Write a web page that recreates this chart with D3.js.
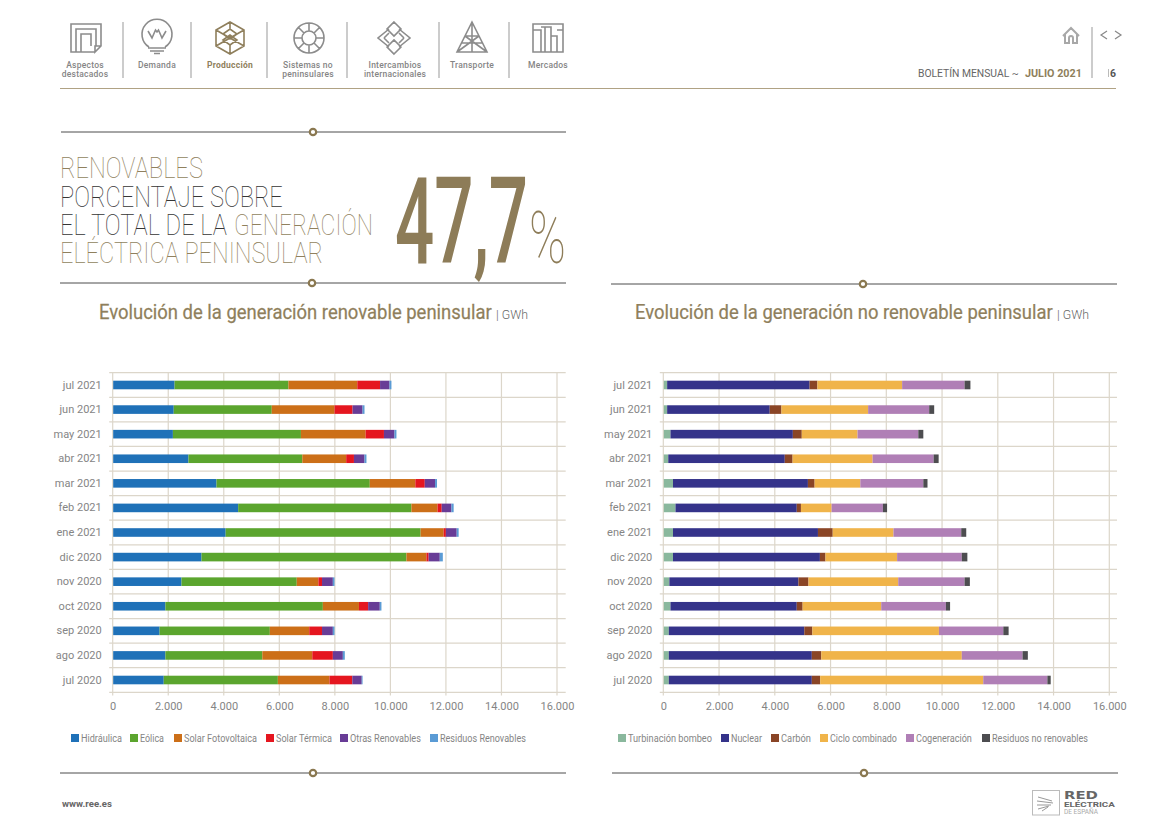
<!DOCTYPE html>
<html>
<head>
<meta charset="utf-8">
<script src="https://d3js.org/d3.v7.min.js"></script>
<style>
  body { margin: 0; background: #fff; }
  svg { display: block; }
  text { font-family: "Liberation Sans Narrow", Roboto, sans-serif; }
</style>
</head>
<body>
<svg id="page" width="1176" height="832"></svg>
<script>
// months, top bar first
let months = ["jul 2021","jun 2021","may 2021","abr 2021","mar 2021","feb 2021","ene 2021","dic 2020","nov 2020","oct 2020","sep 2020","ago 2020","jul 2020"];
let xTicks = [0,2000,4000,6000,8000,10000,12000,14000,16000];

// renovable (GWh)
let renewableNames = ["Hidráulica","Eólica","Solar Fotovoltaica","Solar Térmica","Otras Renovables","Residuos Renovables"];
let hidraulica = [2210,2180,2150,2710,3720,4500,4050,3180,2460,1880,1670,1880,1820];
let eolica = [4100,3530,4610,4100,5520,6240,7020,7380,4150,5670,3970,3490,4110];
let solarFoto = [2480,2260,2330,1580,1640,940,830,720,780,1300,1420,1800,1860];
let solarTerm = [820,650,660,280,340,150,80,80,130,330,460,740,820];
let otrasRen = [340,360,380,380,370,350,390,400,390,420,390,360,340];
let residuosRen = [70,70,70,70,70,80,70,110,60,60,60,70,30];

// no renovable (GWh)
let nonRenewableNames = ["Turbinación bombeo","Nuclear","Carbón","Ciclo combinado","Cogeneración","Residuos no renovables"];
let turbinacion = [120,120,240,160,330,420,330,330,200,240,180,180,180];
let nuclear = [5110,3680,4390,4180,4840,4350,5200,5270,4630,4530,4860,5130,5130];
let carbon = [280,420,320,280,240,150,530,200,360,210,290,340,300];
let ciclo = [3040,3110,2000,2870,1640,1100,2180,2570,3220,2820,4540,5040,5850];
let cogeneracion = [2240,2190,2180,2190,2260,1840,2430,2320,2380,2320,2310,2180,2300];
let residuosNoRen = [210,180,180,180,150,150,180,200,190,150,190,190,120];

let navLabels = [["Aspectos","destacados"],["Demanda"],["Producción"],["Sistemas no","peninsulares"],["Intercambios","internacionales"],["Transporte"],["Mercados"]];

let gold = "#8f7f5c";
let gray = "#858585";
let gridColor = "#dcd6ca";

let svg = d3.select("#page");
let esFormat = d3.formatLocale({decimal: ",", thousands: ".", grouping: [3], currency: ["", "€"]}).format(",d");

// text squeezed to a given width, the fonts here have no condensed cut of the original
function fitted(x, y, str, width, size, color, weight, family) {
    let t = svg.append("text").text(str)
        .attr("font-size", size).attr("fill", color).attr("font-weight", weight || 400);
    if (family) t.style("font-family", family);
    let k = width ? width / t.node().getComputedTextLength() : 1;
    t.attr("transform", "translate(" + x + "," + y + ") scale(" + k + ",1)");
    return t;
}

//----- stacked bars
function drawChart(cfg) {
    let x = d3.scaleLinear().domain([0, 16000]).range([cfg.x0, cfg.x1]);
    let y = d3.scaleBand().domain(months).range([372.7, 692.3]).paddingInner(0.65).paddingOuter(0.325);
    let g = svg.append("g");

    // one row per month
    let rows = months.map(function(m, i) {
        let row = {month: m};
        cfg.names.forEach(function(n, j) { row[n] = cfg.series[j][i]; });
        return row;
    });
    let stacked = d3.stack().keys(cfg.names)(rows);

    // horizontal lines sit on the band limits
    g.selectAll(".hline").data(d3.range(months.length + 1)).enter().append("line")
        .attr("x1", cfg.x0 - 3.5).attr("x2", cfg.xEnd)
        .attr("y1", i => 372.7 + i * y.step()).attr("y2", i => 372.7 + i * y.step())
        .attr("stroke", gridColor).attr("stroke-width", 1.2);

    g.selectAll(".vline").data(xTicks).enter().append("line")
        .attr("x1", d => x(d)).attr("x2", d => x(d))
        .attr("y1", 372.7).attr("y2", 695.5)
        .attr("stroke", gridColor).attr("stroke-width", 1.2);

    g.selectAll(".layer").data(stacked).enter().append("g")
        .attr("fill", d => cfg.colors[d.index])
        .selectAll("rect").data(d => d).enter().append("rect")
        .attr("x", d => x(d[0]) + 0.5)
        .attr("y", d => y(d.data.month))
        .attr("width", d => x(d[1]) - x(d[0]))
        .attr("height", y.bandwidth());

    let yAxis = g.append("g").attr("transform", "translate(" + (cfg.x0 - 11) + ",0)")
        .call(d3.axisLeft(y).tickSize(0).tickPadding(0));
    let xAxis = g.append("g").attr("transform", "translate(0,695)")
        .call(d3.axisBottom(x).tickValues(xTicks).tickFormat(esFormat).tickSize(0).tickPadding(7));
    [yAxis, xAxis].forEach(function(a) {
        a.select(".domain").remove();
        a.selectAll("text").style("font-family", '"Liberation Sans Narrow", Roboto, sans-serif')
            .attr("font-size", 11).attr("fill", gray);
    });

    // legend
    cfg.names.forEach(function(n, i) {
        g.append("rect").attr("x", cfg.legendX[i]).attr("y", 734).attr("width", 8).attr("height", 8).attr("fill", cfg.colors[i]);
        fitted(cfg.legendX[i] + 10, 741.5, n, cfg.legendW[i], 11, gray);
    });
}

drawChart({
    x0: 112.7, x1: 557, xEnd: 565.7,
    names: renewableNames,
    series: [hidraulica, eolica, solarFoto, solarTerm, otrasRen, residuosRen],
    colors: ["#1f71b8","#5ba52e","#cc6f18","#e5161f","#683c96","#5a9bd5"],
    legendX: [71,130,174,266,340,430],
    legendW: [41,24,73,56,71,86]
});
drawChart({
    x0: 663.3, x1: 1109.3, xEnd: 1117,
    names: nonRenewableNames,
    series: [turbinacion, nuclear, carbon, ciclo, cogeneracion, residuosNoRen],
    colors: ["#8ab89d","#35338a","#8a4526","#f0b44a","#b07fb6","#4d4d50"],
    legendX: [618,721,771,820,906,982],
    legendW: [84,31,30,67,56,96]
});

//----- rules with a small ring
function ringRule(x1, x2, y, cx) {
    svg.append("line").attr("x1", x1).attr("x2", x2).attr("y1", y).attr("y2", y).attr("stroke", "#4d4d4d").attr("stroke-width", 1);
    svg.append("circle").attr("cx", cx).attr("cy", y).attr("r", 3.2).attr("fill", "#fff").attr("stroke", "#8a7850").attr("stroke-width", 2.2);
}
ringRule(61, 566, 132, 313);
ringRule(60, 566, 283, 312);
ringRule(611, 1117, 284, 863);
ringRule(60, 566, 773, 313);
ringRule(612, 1118, 773, 864);

//----- headline block
let thin = 'Roboto, sans-serif';
// the opacity keeps the thin strokes free of colour fringes
function headline(x, y, str, width, color) {
    fitted(x, y, str, width, 29, color, 100, thin).style("opacity", 0.99);
}
headline(60, 178, "RENOVABLES", 143, gold);
headline(60, 206.5, "PORCENTAJE SOBRE", 223, "#333");
headline(60, 235, "EL TOTAL DE LA", 167, "#333");
headline(234, 235, "GENERACIÓN", 139, gold);
headline(60, 263, "ELÉCTRICA PENINSULAR", 263, gold);
fitted(395, 263, "47,7", 133, 120, "#8d7c58", 500, thin);
fitted(529, 263, "%", 37, 73, "#8d7c58", 100, thin).style("opacity", 0.99);

//----- chart titles
fitted(99, 319, "Evolución de la generación renovable peninsular", 393, 21, gold, 400).attr("stroke", gold).attr("stroke-width", 0.25);
fitted(496, 319, "| GWh", 32, 13, "#666", 300, thin);
fitted(635, 319, "Evolución de la generación no renovable peninsular", 418, 21, gold, 400).attr("stroke", gold).attr("stroke-width", 0.25);
fitted(1057, 319, "| GWh", 32, 13, "#666", 300, thin);

//----- header
svg.append("line").attr("x1", 60).attr("x2", 1116).attr("y1", 88.5).attr("y2", 88.5).attr("stroke", "#b0a284").attr("stroke-width", 1);
[123,191,267,347,439,509].forEach(function(sx) {
    svg.append("line").attr("x1", sx).attr("x2", sx).attr("y1", 22).attr("y2", 78).attr("stroke", "#999").attr("stroke-width", 1);
});
let navX = [85,157,230,308,395,472,548];
navLabels.forEach(function(lines, i) {
    lines.forEach(function(s, j) {
        svg.append("text").attr("x", navX[i]).attr("y", 68 + j * 9).attr("text-anchor", "middle")
            .style("font-family", thin).attr("font-size", 8.5).attr("font-weight", i == 2 ? 700 : 500)
            .attr("fill", i == 2 ? gold : gray).attr("letter-spacing", 0.25).text(s);
    });
});

// nav icons, plain outlines
function icon(cx, cy, color, d, sw) {
    svg.append("path").attr("transform", "translate(" + cx + "," + cy + ")").attr("d", d)
        .attr("fill", "none").attr("stroke", color).attr("stroke-width", sw || 1.6);
}
icon(86, 38, "#8c8c8c", "M9,14H-15V-14H15V8L9,14V8H15M-10,14V-9H10V8M-5,14V-4H5V8");
icon(157, 33, "#8c8c8c", "M-8,14A15,15 0 1 1 8,14M-9,-2L-5,5L-1.5,-3L0,-1L1.5,-3L5,5L9,-2M-9,15H9M-7,18H7M-3,20.5H3");
icon(230, 38, "#8f7f5c", "M0,-16L14,-8V8L0,16L-14,8V-8ZM-14,-8L0,0L14,-8M-14,8L0,0L14,8M0,-16V-9M-7,-4L0,-9L7,-4L0,1ZM-7,2L0,-3L7,2L0,7ZM0,7V16");
icon(309, 38, "#8c8c8c", "M-7,0A7,7 0 1 0 7,0A7,7 0 1 0 -7,0M-15,0A15,15 0 1 0 15,0A15,15 0 1 0 -15,0M0,-15V-7M0,15V7M-15,0H-7M15,0H7M-10.5,-10.5L-5,-5M10.5,-10.5L5,-5M-10.5,10.5L-5,5M10.5,10.5L5,5");
icon(394, 38, "#8c8c8c", "M0,-16L7,-9L0,-2L-7,-9ZM0,16L7,9L0,2L-7,9ZM-5,-9L-16,0L-5,9M5,-9L16,0L5,9M-10,0L-5,-5M10,0L5,-5M-10,0L-5,5M10,0L5,5");
icon(472, 38, "#8c8c8c", "M0,-16L15,14H-15ZM0,-16V14M-15,14L7,-2M15,14L-7,-2M-7,-2H7M-10,5H10");
icon(548, 38, "#8c8c8c", "M-15,-14H15V14H-15ZM-15,-8H-7V14M-7,-8V14M-7,-11H3V14M-3,-11V14M3,-2H9V14M9,-8H15");

// top right corner
icon(1071, 35, "#a8a8a8", "M-8,1L0,-7L8,1M-6,-1V8H-2V3A2,2 0 0 1 2,3V8H6V-1", 2);
svg.append("line").attr("x1", 1092).attr("x2", 1092).attr("y1", 27).attr("y2", 78).attr("stroke", "#999").attr("stroke-width", 1);
icon(1104, 35, "#888", "M3,-4L-3,0L3,4", 1.2);
icon(1118, 35, "#888", "M-3,-4L3,0L-3,4", 1.2);
fitted(918, 77, "BOLETÍN MENSUAL  ~", 101, 10.5, "#666", 400, thin);
fitted(1025, 77, "JULIO 2021", 57, 10.5, gold, 700, thin);
svg.append("line").attr("x1", 1108.5).attr("x2", 1108.5).attr("y1", 69).attr("y2", 77).attr("stroke", "#bbb").attr("stroke-width", 1);
fitted(1110, 77, "6", 6, 10.5, "#555", 700, thin);

//----- footer
fitted(62, 807, "www.ree.es", 50, 9.5, "#666", 700, thin);
svg.append("rect").attr("x", 1032.5).attr("y", 790.5).attr("width", 27).attr("height", 24.5).attr("fill", "none").attr("stroke", "#bbb").attr("stroke-width", 1);
icon(1045, 803, "#999", "M-7,-6L7,-2M-8,-2L8,0M-8,2L6,2M-7,6L4,3M-3,8L3,4", 1);
fitted(1064, 799, "RED", 34, 11, "#666", 700, "'DejaVu Sans', sans-serif");
fitted(1064, 806.5, "ELÉCTRICA", 51, 7, "#666", 700, thin);
fitted(1064, 814, "DE ESPAÑA", 34, 6.5, "#aaa", 400, thin);
</script>
</body>
</html>
